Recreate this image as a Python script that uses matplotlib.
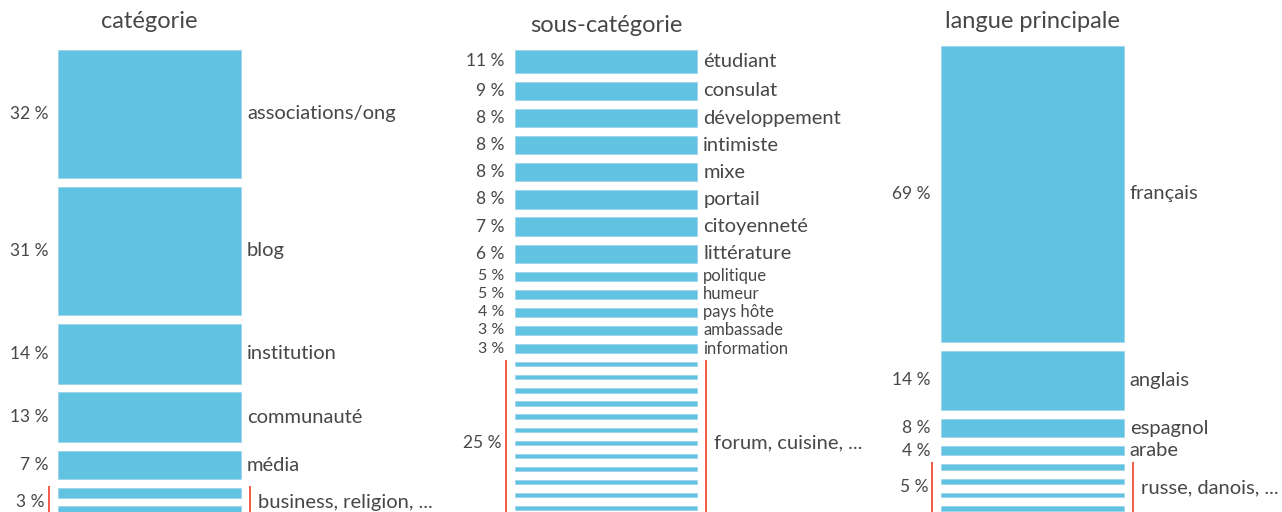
import matplotlib
matplotlib.use('Agg')
import matplotlib.pyplot as plt
from matplotlib.patches import Rectangle
from matplotlib.transforms import offset_copy

W, H = 1282, 512
DPI = 100
BLUE = '#62c2e1'
EDGE = '#9ed5e8'
RED = '#f04e37'
TXT = '#474747'
FONT = 'Lato'
WEIGHT = 'normal'

# ---------------- data ----------------
cat_title = 'catégorie'
cat_labels = ['associations/ong', 'blog', 'institution', 'communauté', 'média']
cat_pct = [32, 31, 14, 13, 7]
cat_share = [32, 32, 15, 12.5, 7]
cat_other_label = 'business, religion, ...'
cat_other_pct = 3
cat_other_share = [2.4, 2.4]

sub_title = 'sous-catégorie'
sub_labels = ['étudiant', 'consulat', 'développement', 'intimiste', 'mixe', 'portail',
              'citoyenneté', 'littérature', 'politique', 'humeur', 'pays hôte',
              'ambassade', 'information']
sub_pct = [11, 9, 8, 8, 8, 8, 7, 6, 5, 5, 4, 3, 3]
sub_share = [11.5, 9.15, 9.15, 9.15, 9.15, 9.15, 9.3, 9.0, 4.65, 4.65, 4.65, 4.65, 4.65]
sub_other_label = 'forum, cuisine, ...'
sub_other_pct = 25
sub_other_share = [2.15] * 13

lang_title = 'langue principale'
lang_labels = ['français', 'anglais', 'espagnol', 'arabe']
lang_pct = [69, 14, 8, 4]
lang_share = [69, 13.9, 4.3, 2.1]
lang_other_label = 'russe, danois, ...'
lang_other_pct = 5
lang_other_share = [1.45, 1.1, 1.1, 1.1]

# ---------------- layout (pixels) ----------------
panels = [
    dict(title=cat_title, labels=cat_labels, pct=cat_pct, share=cat_share,
         olabel=cat_other_label, opct=cat_other_pct, oshare=cat_other_share,
         left=58, right=241, k=4.0, top=50, ty=21, small_below=0),
    dict(title=sub_title, labels=sub_labels, pct=sub_pct, share=sub_share,
         olabel=sub_other_label, opct=sub_other_pct, oshare=sub_other_share,
         left=514.7, right=697.3, k=2.0, top=50, ty=25, small_below=6),
    dict(title=lang_title, labels=lang_labels, pct=lang_pct, share=lang_share,
         olabel=lang_other_label, opct=lang_other_pct, oshare=lang_other_share,
         left=941, right=1123.7, k=4.29, top=45.7, ty=21, small_below=0),
]
GAP = 8.8
BIG, SMALL, PCT, PCT_SMALL, TITLE = 14.5, 12, 12.5, 11.5, 17

fig = plt.figure(figsize=(W / DPI, H / DPI), dpi=DPI)
fig.patch.set_facecolor('white')

def px(dx):
    return dx * 72.0 / DPI  # pixels -> points

def txt(ax, x, y, s, tr, ha, size):
    ax.text(x, y, s, transform=tr, ha=ha, va='center', fontsize=size,
            color=TXT, family=FONT, fontweight=WEIGHT, clip_on=False)

for p in panels:
    k = p['k']
    ax = fig.add_axes([p['left'] / W, 0, (p['right'] - p['left']) / W, 1])
    ax.set_xlim(0, 1)
    ax.set_ylim(H / k, 0)
    ax.axis('off')
    gap = GAP / k
    y = p['top'] / k

    txt(ax, 0.5, p['ty'] / k, p['title'], ax.transData, 'center', TITLE)

    left_t = offset_copy(ax.transData, fig=fig, x=-px(10), y=0, units='points')
    right_t = offset_copy(ax.transData, fig=fig, x=px(6), y=0, units='points')

    for lab, pc, sh in zip(p['labels'], p['pct'], p['share']):
        ax.add_patch(Rectangle((0, y), 1, sh, facecolor=BLUE, edgecolor=EDGE,
                               linewidth=0.6, clip_on=False))
        yc = y + sh / 2
        small = pc < p['small_below']
        txt(ax, 0, yc, f'{pc} %', left_t, 'right', PCT_SMALL if small else PCT)
        txt(ax, 1, yc, lab, right_t, 'left', SMALL if small else BIG)
        y += sh + gap

    g0 = y
    for sh in p['oshare']:
        ax.add_patch(Rectangle((0, y), 1, sh, facecolor=BLUE, edgecolor=EDGE,
                               linewidth=0.6, clip_on=False))
        y += sh + gap
    g1 = y - gap
    xl = -9 / (p['right'] - p['left'])
    xr = 1 + 9 / (p['right'] - p['left'])
    for xx in (xl, xr):
        ax.plot([xx, xx], [g0 - 2 / k, g1 + 2 / k], color=RED, lw=1.3,
                clip_on=False, solid_capstyle='butt')
    gc = (g0 + g1) / 2
    lt = offset_copy(ax.transData, fig=fig, x=-px(4), y=0, units='points')
    rt = offset_copy(ax.transData, fig=fig, x=px(8), y=0, units='points')
    txt(ax, xl, gc, f"{p['opct']} %", lt, 'right', PCT)
    txt(ax, xr, gc, p['olabel'], rt, 'left', BIG)

fig.savefig('out.png', dpi=DPI, facecolor='white')
